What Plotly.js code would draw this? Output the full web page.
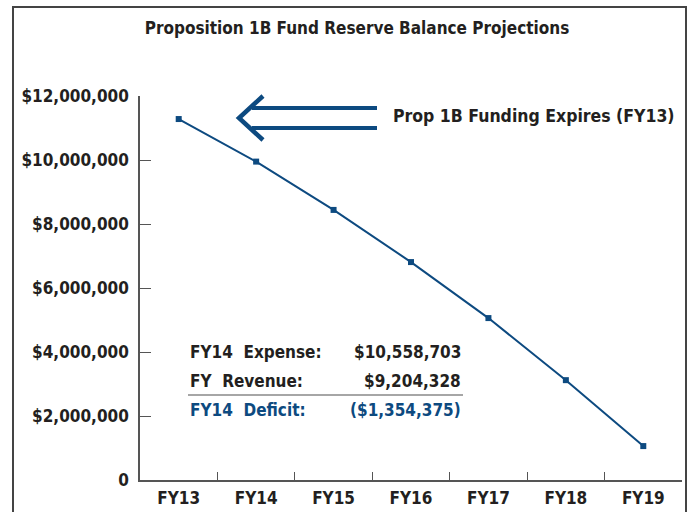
<!DOCTYPE html>
<html>
<head>
<meta charset="utf-8">
<script src="https://cdn.plot.ly/plotly-3.0.1.min.js"></script>
<style>
  body { margin: 0; padding: 0; background: #fff; }
  #chart { width: 690px; height: 512px; }
</style>
</head>
<body>
<div id="chart"></div>
<script>
// data
const years = ['FY13', 'FY14', 'FY15', 'FY16', 'FY17', 'FY18', 'FY19'];
const balance = [11280000, 9950000, 8440000, 6810000, 5060000, 3120000, 1060000];

const y_tickvals = [0, 2000000, 4000000, 6000000, 8000000, 10000000, 12000000];
const y_ticktext = ['0', '$2,000,000', '$4,000,000', '$6,000,000', '$8,000,000', '$10,000,000', '$12,000,000'];

const table_labels = ['FY14\u00a0 Expense:', 'FY\u00a0 Revenue:', 'FY14\u00a0 Deficit:'];
const table_values = ['$10,558,703', '$9,204,328', '($1,354,375)'];

const FONT = '"DejaVu Sans Condensed", "Liberation Sans Narrow", sans-serif';
const NAVY = '#0d4a80';
const INK = '#231f20';

// plot area in page pixels
const M = { l: 140, r: 8, t: 96, b: 32 };
const W = 690, H = 512;
const pw = W - M.l - M.r, ph = H - M.t - M.b;
const px = x => (x - M.l) / pw;
const py = y => (H - M.b - y) / ph;

const trace = {
    x: years,
    y: balance,
    type: 'scatter',
    mode: 'lines+markers',
    line: { color: NAVY, width: 2 },
    marker: { color: NAVY, symbol: 'square', size: 6 },
    hoverinfo: 'x+y'
};

// small info table
const rows_y = [352, 381, 410];
const annotations = [];
rows_y.forEach((y, i) => {
    const color = i === 2 ? NAVY : INK;
    annotations.push({
        xref: 'paper', yref: 'paper', x: px(188), y: py(y),
        xanchor: 'left', yanchor: 'middle', showarrow: false,
        text: table_labels[i], font: { family: FONT, size: 17, color: color, weight: 'bold' }
    });
    annotations.push({
        xref: 'paper', yref: 'paper', x: px(463), y: py(y),
        xanchor: 'right', yanchor: 'middle', showarrow: false,
        text: table_values[i], font: { family: FONT, size: 17, color: color, weight: 'bold' }
    });
});

annotations.push({
    xref: 'paper', yref: 'paper', x: px(391), y: py(116),
    xanchor: 'left', yanchor: 'middle', showarrow: false,
    text: 'Prop 1B Funding Expires (FY13)',
    font: { family: FONT, size: 17.5, color: INK, weight: 'bold' }
});

const p = (x, y) => px(x) + ',' + py(y);

const shapes = [
    // outer frame
    {
        type: 'rect', xref: 'paper', yref: 'paper',
        x0: px(13), x1: px(686), y0: py(530), y1: py(7),
        line: { color: '#444', width: 2 }, fillcolor: 'rgba(0,0,0,0)'
    },
    // separator under revenue row
    {
        type: 'line', xref: 'paper', yref: 'paper',
        x0: px(188), x1: px(463), y0: py(395), y1: py(395),
        line: { color: '#888', width: 1.5 }
    },
    // hollow arrow
    {
        type: 'path', xref: 'paper', yref: 'paper',
        path: 'M' + p(263, 96) + 'L' + p(239, 118) + 'L' + p(263, 140),
        line: { color: NAVY, width: 4.5 }
    },
    {
        type: 'line', xref: 'paper', yref: 'paper',
        x0: px(252), x1: px(377), y0: py(108), y1: py(108),
        line: { color: NAVY, width: 4 }
    },
    {
        type: 'line', xref: 'paper', yref: 'paper',
        x0: px(252), x1: px(377), y0: py(128), y1: py(128),
        line: { color: NAVY, width: 4 }
    }
];

const layout = {
    width: W,
    height: H,
    margin: M,
    paper_bgcolor: '#fff',
    plot_bgcolor: '#fff',
    showlegend: false,
    font: { family: FONT, color: INK },
    title: {
        text: 'Proposition 1B Fund Reserve Balance Projections',
        xref: 'container', yref: 'container',
        x: 357 / W, y: 1 - 28 / H,
        xanchor: 'center', yanchor: 'middle',
        font: { family: FONT, size: 17, color: INK, weight: 'bold' }
    },
    xaxis: {
        type: 'category',
        range: [-0.5, 6.5],
        showline: true,
        linecolor: '#555',
        linewidth: 1.5,
        showgrid: false,
        zeroline: false,
        ticks: 'inside',
        tickson: 'boundaries',
        ticklen: 8,
        tickcolor: '#555',
        tickwidth: 1,
        tickfont: { family: FONT, size: 17, color: INK, weight: 'bold' },
        ticklabelstandoff: 2
    },
    yaxis: {
        range: [0, 12000000],
        tickvals: y_tickvals,
        ticktext: y_ticktext,
        showline: true,
        linecolor: '#555',
        linewidth: 1.5,
        showgrid: false,
        zeroline: false,
        ticks: 'inside',
        ticklen: 11,
        tickcolor: '#555',
        tickwidth: 1,
        tickfont: { family: FONT, size: 17, color: INK, weight: 'bold' },
        ticklabelstandoff: 6
    },
    annotations: annotations,
    shapes: shapes
};

Plotly.newPlot('chart', [trace], layout, { displayModeBar: false, responsive: false });
</script>
</body>
</html>
